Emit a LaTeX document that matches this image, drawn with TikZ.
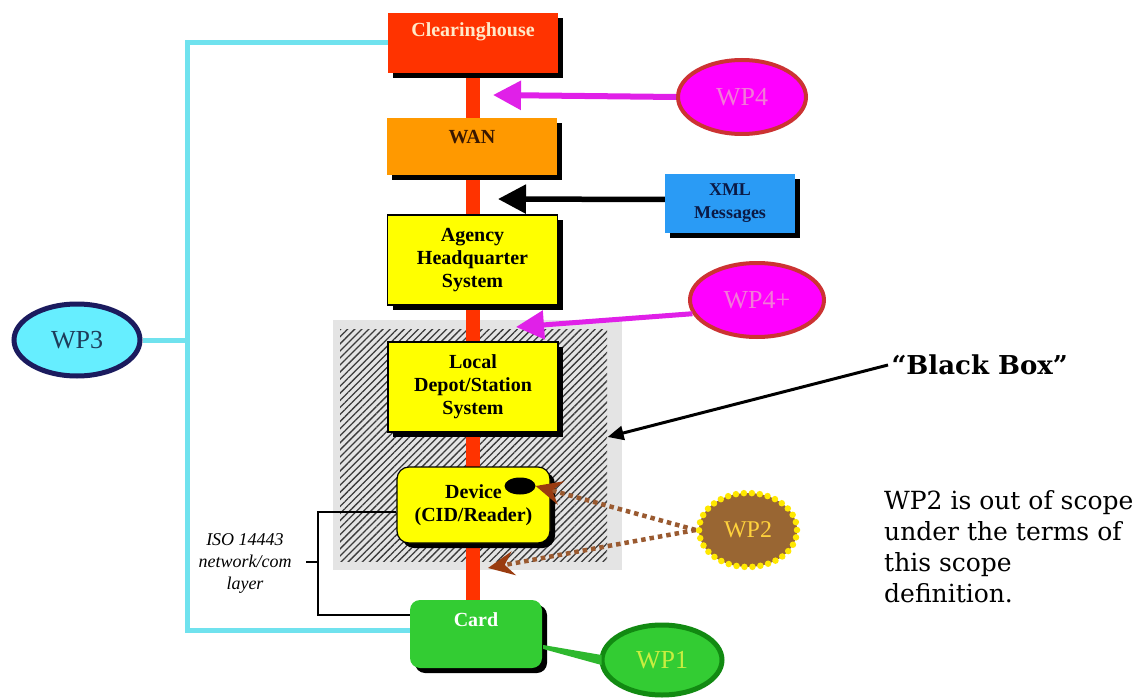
\documentclass[tikz,border=0pt]{standalone}
\usepackage{fontspec}
\setmainfont{Liberation Serif}
\newfontfamily\djserif{DejaVu Serif}
\usetikzlibrary{arrows.meta,shapes.geometric,patterns.meta,calc,shadows,backgrounds}

\definecolor{chred}{HTML}{FF3300}
\definecolor{chtext}{HTML}{FFE9C8}
\definecolor{wanorange}{HTML}{FF9900}
\definecolor{wantext}{HTML}{3A1800}
\definecolor{xmlblue}{HTML}{2A9BF5}
\definecolor{xmltext}{HTML}{0B1A45}
\definecolor{sysyellow}{HTML}{FFFF00}
\definecolor{cardgreen}{HTML}{33CC33}
\definecolor{barred}{HTML}{FF3300}
\definecolor{wpmag}{HTML}{FF00FF}
\definecolor{wpmagrim}{HTML}{CC3333}
\definecolor{wpmagtext}{HTML}{F27AD8}
\definecolor{arrowmag}{HTML}{E020E8}
\definecolor{wpcyan}{HTML}{66EEFF}
\definecolor{wpcyanrim}{HTML}{1B1B5E}
\definecolor{wpcyantext}{HTML}{1E3C5A}
\definecolor{linkcyan}{HTML}{70E2EE}
\definecolor{wpgreenrim}{HTML}{128A12}
\definecolor{wpgreentext}{HTML}{C8EE40}
\definecolor{wpbrown}{HTML}{996633}
\definecolor{wpbrownrim}{HTML}{FFE800}
\definecolor{wpbrowntext}{HTML}{FFD23C}
\definecolor{dotbrown}{HTML}{9A5A30}
\definecolor{headbrown}{HTML}{9A3C10}
\definecolor{bbgray}{HTML}{E4E4E4}
\definecolor{hatchgray}{HTML}{3A3A3A}

\newcommand{\bxfont}{\fontsize{20}{23}\selectfont\bfseries}
\newcommand{\xmlfont}{\fontsize{18}{23}\selectfont\bfseries}
\newcommand{\wpfont}{\fontsize{26}{28}\selectfont}
\newcommand{\isofont}{\fontsize{18}{22}\selectfont\itshape}
\newcommand{\notefont}{\djserif\fontsize{25}{31}\selectfont}
\newcommand{\bbfont}{\djserif\fontsize{26}{30}\selectfont\bfseries}

\tikzset{
  sysbox/.style={rectangle, inner sep=2pt, align=center, font=\bxfont,
    drop shadow={shadow xshift=5pt, shadow yshift=-5pt, fill=black, opacity=1}},
  yellowbox/.style={sysbox, fill=sysyellow, draw=black, line width=1.2pt,
    minimum width=170pt, minimum height=90pt},
  toplabel/.style={font=\bxfont, anchor=north, yshift=-9pt},
  wpnode/.style={ellipse, inner sep=0pt, font=\wpfont},
  magarrow/.style={draw=arrowmag, line width=6pt, -{Triangle[length=28pt,width=28pt]}},
  blkarrow/.style={draw=black, line width=5.5pt, -{Triangle[length=28pt,width=28pt]}},
  dotarrow/.style={draw=dotbrown, line width=4.5pt, dash pattern=on 4.5pt off 4pt,
    -{Stealth[length=26pt,width=24pt,inset=9pt,color=headbrown,fill=headbrown]}},
  cyanlink/.style={draw=linkcyan, line width=5pt},
  isolink/.style={draw=black, line width=2.5pt},
}

\begin{document}
\begin{tikzpicture}[x=1pt,y=-1pt]
\useasboundingbox (0,0) rectangle (1144,698);

% system chain
\node[sysbox, fill=chred, minimum width=170pt, minimum height=60pt,
  label={[toplabel, yshift=3pt, text=chtext]north:Clearinghouse}] (ch) at (473,43) {};
\node[sysbox, fill=wanorange, minimum width=170pt, minimum height=57pt,
  label={[toplabel, text=wantext]north:WAN}] (wan) at (472,146.5) {};
\node[sysbox, fill=xmlblue, font=\xmlfont, text=xmltext,
  minimum width=130pt, minimum height=59pt] (xml) at (730,203.5) {XML\\Messages};
\node[yellowbox] (hq) at (472.5,260) {Agency\\Headquarter\\System};
\node[yellowbox] (lds) at (473,387) {Local\\Depot/Station\\System};
\node[yellowbox, rounded corners=12pt, minimum width=153pt, minimum height=76pt]
  (dev) at (473.5,505) {Device\\(CID/Reader)};
\node[ellipse, fill=black, minimum width=31pt, minimum height=17pt, inner sep=0pt]
  (dot) at (520,486) {};
\node[sysbox, fill=cardgreen, rounded corners=10pt, minimum width=132pt, minimum height=68pt,
  label={[toplabel, text=white]north:Card}] (card) at (476,634) {};

% work packages
\node[wpnode, fill=wpmag, draw=wpmagrim, line width=4pt, text=wpmagtext,
  minimum width=128pt, minimum height=74pt] (wp4) at (742,97) {WP4};
\node[wpnode, fill=wpmag, draw=wpmagrim, line width=4pt, text=wpmagtext,
  minimum width=134pt, minimum height=74pt] (wp4p) at (757,300) {WP4+};
\node[wpnode, fill=wpcyan, draw=wpcyanrim, line width=5pt, text=wpcyantext,
  minimum width=126pt, minimum height=72pt] (wp3) at (77,340) {WP3};
\node[wpnode, fill=cardgreen, draw=wpgreenrim, line width=5pt, text=wpgreentext,
  minimum width=120pt, minimum height=70pt] (wp1) at (662,660) {WP1};
\node[wpnode, fill=wpbrown, draw=wpbrownrim, line width=6.5pt, line cap=round,
  dash pattern=on 0pt off 8pt, text=wpbrowntext, font=\fontsize{24}{26}\selectfont,
  minimum width=98pt, minimum height=74pt] (wp2) at (748,530) {WP2};

% captions
\node[font=\bbfont, anchor=west] (bbtxt) at (888,365) {“Black Box”};
\node[font=\notefont, align=left, anchor=north west, inner sep=0pt] (note) at (884,490)
  {WP2 is out of scope\\under the terms of\\this scope\\definition.};
\node[font=\isofont, align=center] (iso) at (245,563) {ISO 14443\\network/com\\layer};

% free ends of connectors
\coordinate (t4) at (493,95);
\coordinate (txml) at (498,199);
\coordinate (t4p) at (516,327);
\coordinate (rail) at (187,0);
\coordinate (isorail) at (318,0);
\coordinate (tick) at (306,562);
\coordinate (devlow) at (488,568);
\coordinate (isotop) at ([yshift=-7pt]dev.west);
\coordinate (isobot) at ([yshift=19pt]card.west);
\coordinate (cardlow) at ([yshift=4pt]card.west);

% black box backdrop and the vertical link bar
\begin{scope}[on background layer]
  \fill[white] (0,0) rectangle (1144,698);
  \node[fill=bbgray, minimum width=289pt, minimum height=250pt, inner sep=0pt]
    (bb) at (477.5,445) {};
  \node[pattern={Lines[angle=45,distance=5pt,line width=1.3pt]}, pattern color=hatchgray,
    minimum width=267pt, minimum height=232pt, inner sep=0pt] (hatch) at (473.5,445) {};
  \draw[line width=14pt, barred] (ch.south) -- (ch.south |- card.north);
\end{scope}

% arrows
\draw[magarrow] (wp4.west) -- (t4);
\draw[blkarrow] ([yshift=4pt]xml.west) -- (txml);
\draw[magarrow, line width=5pt] (wp4p.192) -- (t4p);
\draw[draw=black, line width=3pt, -{Triangle[length=16pt,width=14pt]}]
  (bbtxt.west) -- ([yshift=8pt]hatch.east);
\draw[dotarrow] (wp2.west) -- (dot.east);
\draw[dotarrow] (wp2.west) -- (devlow);

% card to WP1
\fill[cardgreen!90!black] ($(card.east)+(1,11)$) -- ($(wp1.west)+(2,-5)$)
  -- ($(wp1.west)+(2,5)$) -- ($(card.east)+(1,15)$) -- cycle;

% WP3 scope bracket
\draw[cyanlink] (wp3.east) -- (wp3.east -| rail);
\draw[cyanlink] (ch.west) -- (ch.west -| rail) -- (cardlow -| rail) -- (cardlow);

% ISO 14443 bracket
\draw[isolink] (isotop) -- (isotop -| isorail) -- (isobot -| isorail) -- (isobot);
\draw[isolink] (tick) -- (tick -| isorail);
\end{tikzpicture}
\end{document}
